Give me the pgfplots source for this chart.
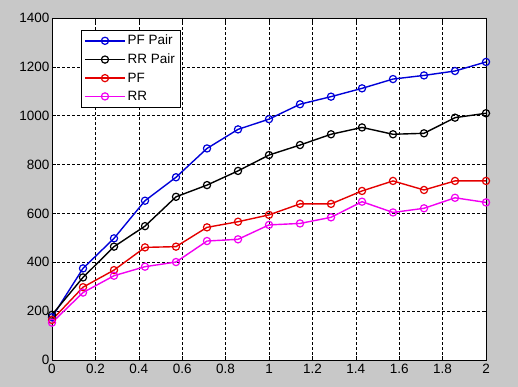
\documentclass[border=0pt]{standalone}
\usepackage{fontspec}
\setmainfont{Liberation Sans}
\usepackage{pgfplots}
\pgfplotsset{compat=1.18}
\definecolor{bggray}{RGB}{200,200,200}
\begin{document}
\begin{tikzpicture}[x=1pt,y=1pt]
\fill[bggray] (0,0) rectangle (518,387);
\useasboundingbox (0,0) rectangle (518,387);
\begin{axis}[
  at={(52pt,27pt)}, anchor=south west,
  scale only axis, width=434pt, height=342pt,
  xmin=0, xmax=2, ymin=0, ymax=1400,
  xtick={0,0.2,...,2.01}, ytick={0,200,...,1400},
  xticklabels={0,0.2,0.4,0.6,0.8,1,1.2,1.4,1.6,1.8,2},
  scaled ticks=false,
  /pgf/number format/assume math mode=true,
  tick label style={font=\fontsize{13.5}{15}\selectfont},
  xticklabel style={yshift=-1pt},
  yticklabel style={/pgf/number format/1000 sep={}, xshift=1pt},
  tick align=inside, major tick length=4pt, tick style={black, line width=0.5pt},
  axis line style={black, line width=0.6pt},
  axis background/.style={fill=white},
  grid=major, major grid style={black, line width=0.5pt, dash pattern=on 2.5pt off 2.5pt},
  legend style={at={(0.067,0.965)}, anchor=north west, draw=black, fill=white,
    font=\fontsize{13.5}{15.5}\selectfont, row sep=3.5pt, inner xsep=3pt, inner ysep=3pt},
  legend cell align=left,
  legend image code/.code={\draw[line width=1.4pt, mark repeat=2,mark phase=2] plot coordinates {(0pt,0pt)(20pt,0pt)(40pt,0pt)};},
  every axis plot/.append style={line width=1.4pt, mark=o, mark size=3.6pt, mark options={line width=1.2pt, solid}},
]
\addplot[color={rgb,1:red,0;green,0;blue,0.85}] coordinates {
(0,175)(0.142857,375)(0.285714,498)(0.428571,652)(0.571429,748)(0.714286,866)(0.857143,944)
(1,986)(1.142857,1047)(1.285714,1078)(1.428571,1112)(1.571429,1150)(1.714286,1165)(1.857143,1183)(2,1220)};
\addlegendentry{PF Pair}
\addplot[color=black] coordinates {
(0,185)(0.142857,338)(0.285714,464)(0.428571,548)(0.571429,668)(0.714286,716)(0.857143,774)
(1,839)(1.142857,880)(1.285714,924)(1.428571,952)(1.571429,924)(1.714286,928)(1.857143,992)(2,1010)};
\addlegendentry{RR Pair}
\addplot[color={rgb,1:red,0.9;green,0;blue,0}] coordinates {
(0,164)(0.142857,298)(0.285714,368)(0.428571,461)(0.571429,464)(0.714286,543)(0.857143,566)
(1,594)(1.142857,639)(1.285714,639)(1.428571,692)(1.571429,733)(1.714286,696)(1.857143,733)(2,733)};
\addlegendentry{PF}
\addplot[color={rgb,1:red,0.95;green,0;blue,0.95}] coordinates {
(0,153)(0.142857,276)(0.285714,345)(0.428571,382)(0.571429,401)(0.714286,487)(0.857143,494)
(1,553)(1.142857,559)(1.285714,584)(1.428571,648)(1.571429,604)(1.714286,621)(1.857143,664)(2,645)};
\addlegendentry{RR}
\end{axis}
\end{tikzpicture}
\end{document}
